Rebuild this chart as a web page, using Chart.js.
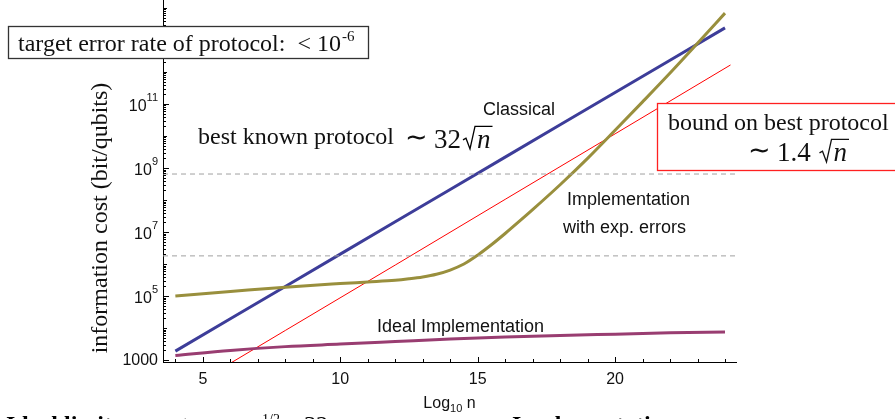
<!DOCTYPE html>
<html>
<head>
<meta charset="utf-8">
<script src="https://cdn.jsdelivr.net/npm/chart.js@4.4.1/dist/chart.umd.min.js"></script>
<style>
  html, body { margin: 0; padding: 0; background: #fff; }
  #c { display: block; }
</style>
</head>
<body>
<canvas id="c" width="895" height="419"></canvas>
<script>
// valeurs (x = log10 n, y = coût en bits/qubits)
const classicalX = [4, 6, 8, 10, 12, 14, 16, 18, 20, 22, 24];
const classicalCost = [1.9e3, 1.95e4, 2.0e5, 2.04e6, 2.09e7, 2.14e8, 2.19e9, 2.24e10, 2.29e11, 2.34e12, 2.4e13];

const boundX = [5.9, 8, 12, 16, 20, 24.2];
const boundCost = [708, 8.4e3, 9.3e5, 1.05e8, 1.17e10, 1.66e12];

const expX = [4, 6, 8, 10, 11, 12, 12.5, 13, 13.5, 14, 14.5, 15, 15.5, 16, 16.5, 17, 18, 19, 20, 21, 22, 23, 24];
const expCost = [1.0e5, 1.38e5, 1.9e5, 2.45e5, 2.75e5, 3.1e5, 3.45e5, 3.95e5, 4.8e5, 6.5e5, 1.0e6, 1.9e6,
  4.0e6, 9.0e6, 2.1e7, 5.0e7, 3.0e8, 2.0e9, 1.51e10, 1.17e11, 9.33e11, 7.94e12, 6.92e13];

const idealX = [4, 6, 8, 10, 12, 14, 16, 18, 20, 22, 24];
const idealCost = [1380, 2000, 2630, 3160, 3800, 4570, 5250, 5890, 6460, 7080, 7590];

// lignes pointillées horizontales
const thresholdCost = [6.5e8, 1.8e6];
const thresholdX = [3.55, 24.4];

// graduations
const xTickLabels = [5, 10, 15, 20];
const yTickExp = [3, 5, 7, 9, 11];

const pts = (xs, ys) => xs.map((x, i) => ({ x: x, y: ys[i] }));

const SERIF = '"Liberation Serif", "Times New Roman", serif';
const SANS = '"Liberation Sans", Arial, sans-serif';

// petit radical dessiné à la main : ~ 32√n
function drawSqrtExpr(ctx, x, base, coef, size) {
  ctx.font = size + 'px ' + SERIF;
  ctx.textBaseline = 'alphabetic';
  ctx.textAlign = 'left';
  ctx.fillText('\u223C', x, base - 2);
  let cx = x + ctx.measureText('\u223C').width + 6;
  ctx.fillText(coef, cx, base);
  cx += ctx.measureText(coef).width + 2;
  ctx.font = 'italic ' + size + 'px ' + SERIF;
  const nw = ctx.measureText('n').width;
  const top = base - size * 0.8;
  ctx.beginPath();
  ctx.lineWidth = 1.3;
  ctx.moveTo(cx, base - size * 0.3);
  ctx.lineTo(cx + 3, base - size * 0.36);
  ctx.lineTo(cx + 7, base + 1);
  ctx.lineTo(cx + 12, top);
  ctx.lineTo(cx + 14 + nw + 2, top);
  ctx.stroke();
  ctx.fillText('n', cx + 14, base);
}

const decorPlugin = {
  id: 'decor',
  afterDraw(chart) {
    const ctx = chart.ctx;
    const xs = chart.scales.x, ys = chart.scales.y;
    const area = chart.chartArea;
    ctx.save();
    ctx.strokeStyle = '#000';
    ctx.fillStyle = '#111';
    ctx.lineWidth = 1;

    // graduations x (vers l'intérieur)
    for (let v = 4; v <= 24; v++) {
      const px = Math.round(xs.getPixelForValue(v)) + 0.5;
      const len = v % 5 === 0 ? 5 : 3;
      ctx.beginPath();
      ctx.moveTo(px, area.bottom);
      ctx.lineTo(px, area.bottom - len);
      ctx.stroke();
    }
    ctx.font = '16px ' + SANS;
    ctx.textAlign = 'center';
    ctx.textBaseline = 'middle';
    xTickLabels.forEach(v => {
      ctx.fillText(String(v), xs.getPixelForValue(v), area.bottom + 18);
    });

    // graduations y (log)
    for (let e = 2; e <= 14; e++) {
      for (let m = 1; m <= 9; m++) {
        const val = m * Math.pow(10, e);
        if (val < ys.min || val > ys.max) continue;
        const py = Math.round(ys.getPixelForValue(val)) + 0.5;
        let len = 3;
        if (m === 1) len = yTickExp.includes(e) ? 6 : 4;
        ctx.beginPath();
        ctx.moveTo(area.left, py);
        ctx.lineTo(area.left + len, py);
        ctx.stroke();
      }
    }
    const right = area.left - 5;
    yTickExp.forEach(e => {
      const py = ys.getPixelForValue(Math.pow(10, e));
      ctx.textBaseline = 'middle';
      ctx.textAlign = 'right';
      if (e === 3) {
        ctx.font = '16px ' + SANS;
        ctx.fillText('1000', right, py + 1);
        return;
      }
      ctx.font = '11px ' + SANS;
      const sup = String(e);
      const sw = ctx.measureText(sup).width;
      ctx.fillText(sup, right, py - 6);
      ctx.font = '16px ' + SANS;
      ctx.fillText('10', right - sw, py + 3);
    });

    // titre axe x : Log10 n
    ctx.textAlign = 'left';
    ctx.textBaseline = 'alphabetic';
    ctx.font = '16px ' + SANS;
    const w1 = ctx.measureText('Log').width;
    ctx.font = '11px ' + SANS;
    const w2 = ctx.measureText('10').width;
    ctx.font = '16px ' + SANS;
    const w3 = ctx.measureText(' n').width;
    let tx = (area.left + area.right) / 2 - (w1 + w2 + w3) / 2;
    ctx.fillText('Log', tx, 408);
    ctx.font = '11px ' + SANS;
    ctx.fillText('10', tx + w1, 412);
    ctx.font = '16px ' + SANS;
    ctx.fillText(' n', tx + w1 + w2, 408);

    // texte coupé en bas de la diapositive
    ctx.fillStyle = '#000';
    ctx.font = 'bold 24px ' + SERIF;
    ctx.fillText('Ideal limit:', 6, 432);
    ctx.font = '24px ' + SERIF;
    ctx.fillText('cost \u223C n', 150, 432);
    ctx.font = '14px ' + SERIF;
    ctx.fillText('1/2', 262, 424);
    ctx.font = '24px ' + SERIF;
    ctx.fillText('\u00B7 32', 290, 432);
    ctx.font = 'bold 24px ' + SERIF;
    ctx.fillText('Implementation:', 512, 432);
    ctx.fillStyle = '#111';

    // titre axe y
    ctx.save();
    ctx.translate(107, 218);
    ctx.rotate(-Math.PI / 2);
    ctx.font = '24px ' + SERIF;
    ctx.textAlign = 'center';
    ctx.fillText('information cost (bit/qubits)', 0, 0);
    ctx.restore();

    // étiquettes des courbes
    ctx.font = '18px ' + SANS;
    ctx.textAlign = 'left';
    ctx.fillText('Classical', 483, 115);
    ctx.fillText('Implementation', 567, 205);
    ctx.fillText('with exp. errors', 563, 233);
    ctx.fillText('Ideal Implementation', 377, 332);

    // texte "best known protocol"
    ctx.font = '24px ' + SERIF;
    ctx.fillText('best known protocol', 198, 144);
    drawSqrtExpr(ctx, 405, 148, '32', 27);

    // encadré en haut à gauche
    ctx.fillStyle = '#fff';
    ctx.fillRect(8, 26, 360, 32);
    ctx.strokeStyle = '#333';
    ctx.strokeRect(8.5, 26.5, 360, 32);
    ctx.fillStyle = '#111';
    ctx.font = '24px ' + SERIF;
    const t1 = 'target error rate of protocol:  < 10';
    ctx.fillText(t1, 18, 51);
    const tw = ctx.measureText(t1).width;
    ctx.font = '15px ' + SERIF;
    ctx.fillText('-6', 18 + tw + 1, 41);

    // encadré rouge
    ctx.fillStyle = '#fff';
    ctx.fillRect(657, 103, 240, 67);
    ctx.strokeStyle = '#ff2020';
    ctx.strokeRect(657.5, 103.5, 260, 67);
    ctx.fillStyle = '#111';
    ctx.strokeStyle = '#111';
    ctx.font = '24px ' + SERIF;
    ctx.fillText('bound on best protocol', 668, 130);
    drawSqrtExpr(ctx, 748, 161, '1.4 ', 27);

    ctx.restore();
  }
};

new Chart(document.getElementById('c'), {
  type: 'line',
  data: {
    datasets: [
      {
        data: pts(thresholdX, [thresholdCost[0], thresholdCost[0]]),
        borderColor: '#a0a0a0', borderWidth: 1, borderDash: [5, 4]
      },
      {
        data: pts(thresholdX, [thresholdCost[1], thresholdCost[1]]),
        borderColor: '#a0a0a0', borderWidth: 1, borderDash: [5, 4]
      },
      {
        label: 'Ideal Implementation',
        data: pts(idealX, idealCost),
        borderColor: '#993d71', borderWidth: 3, cubicInterpolationMode: 'monotone'
      },
      {
        label: 'Implementation with exp. errors',
        data: pts(expX, expCost),
        borderColor: '#998f3d', borderWidth: 3, cubicInterpolationMode: 'monotone'
      },
      {
        label: 'Classical',
        data: pts(classicalX, classicalCost),
        borderColor: '#3d3d99', borderWidth: 3
      },
      {
        label: 'bound',
        data: pts(boundX, boundCost),
        borderColor: '#ff0000', borderWidth: 1
      }
    ]
  },
  options: {
    responsive: false,
    animation: false,
    devicePixelRatio: 1,
    layout: { padding: { left: 0, right: 159, top: 0, bottom: 0 } },
    elements: { point: { radius: 0 }, line: { tension: 0 } },
    plugins: { legend: { display: false }, tooltip: { enabled: false } },
    scales: {
      x: {
        type: 'linear', min: 3.55, max: 24.4,
        ticks: { display: false },
        grid: { display: false, drawTicks: false },
        border: { display: true, color: '#000', width: 1 },
        afterFit(s) { s.height = 57; }
      },
      y: {
        type: 'logarithmic', min: 870, max: 1.78e14,
        ticks: { display: false },
        grid: { display: false, drawTicks: false },
        border: { display: true, color: '#000', width: 1 },
        afterFit(s) { s.width = 163; }
      }
    }
  },
  plugins: [decorPlugin]
});
</script>
</body>
</html>
